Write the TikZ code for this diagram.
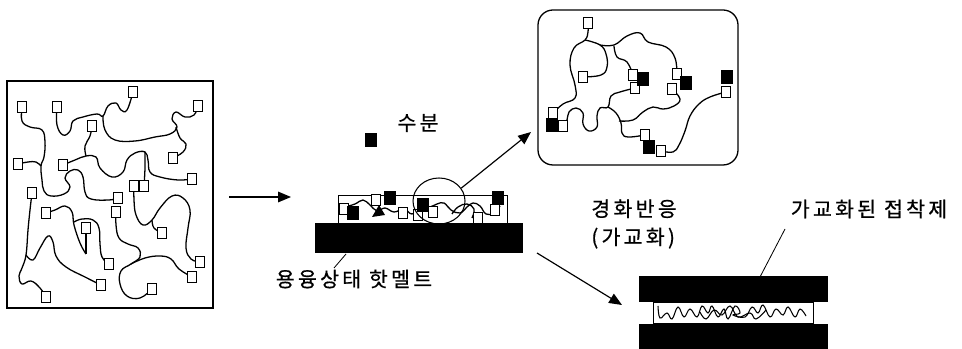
\documentclass[tikz,border=0pt]{standalone}
\usepackage{fontspec}
\usepackage{tikz}
\usetikzlibrary{arrows.meta, shapes.geometric}
\newfontfamily\kr[LetterSpace=16, FakeBold=0.6]{Noto Sans CJK KR}
\pgfdeclarelayer{back}
\pgfsetlayers{back, main}

\tikzset{
  unit/.style = {draw, fill = white, line width = 0.9pt, inner sep = 0pt,
    minimum width = 0.27cm, minimum height = 0.33cm},
  wet/.style = {unit, fill = black, minimum width = 0.31cm, minimum height = 0.39cm},
  chain/.style = {line width = 1.1pt, smooth, tension = 0.7},
  lbl/.style = {font = \kr\fontsize{17.5}{24}\selectfont, inner sep = 0pt},
  go/.style = {-{Triangle[length = 11pt, width = 9pt]}, line width = 1pt}
}

\begin{document}
\begin{tikzpicture}[x = 0.03cm, y = -0.03cm]
\useasboundingbox (0, 0) rectangle (962, 349);

% hot melt before application
\draw [line width = 1.1pt] (7, 81) rectangle (213, 308);
\foreach \x/\y [count = \i] in {133/92, 22/107, 57/107, 198/106, 92/126, 173/158,
  18/164, 63/165, 192/179, 134/186, 144/186, 32/193, 118/198, 46/213, 116/212,
  86/228, 162/233, 109/264, 200/262, 192/277, 101/285, 152/289, 46/297}
  \node [unit] (u\i) at (\x, \y) {};
\begin{pgfonlayer}{back}
\draw [chain] plot coordinates {(u2.center) (22, 121) (30, 127) (42, 130) (45, 142)
  (44, 157) (41, 166) (42, 180) (44, 191) (51, 196) (64, 194) (70, 187) (65, 178)
  (70, 171) (78, 170) (83, 177) (85, 192) (91, 199) (109, 200) (u13.center)};
\draw [chain] plot coordinates {(u7.center) (28, 162) (36, 162) (41, 166)};
\draw [chain] plot coordinates {(u3.center) (57, 125) (63, 135) (70, 131) (73, 121)
  (83, 117) (97, 114) (103, 116) (108, 106) (116, 103) (121, 110) (127, 110) (u1.center)};
\draw [chain] plot coordinates {(103, 116) (105, 130) (115, 140) (135, 141) (155, 137)
  (170, 134) (177, 127) (172, 119) (176, 112) (185, 117) (194, 115) (u4.center)};
\draw [chain] plot coordinates {(176, 127) (180, 138) (186, 144) (183, 152) (u6.center)};
\draw [chain] plot coordinates {(u5.center) (90, 136) (85, 146) (86, 156)};
\draw [chain] plot coordinates {(u8.center) (75, 160) (86, 156) (96, 157) (100, 168)
  (112, 177) (123, 172) (127, 160) (135, 153) (145, 152) (148, 160) (150, 172)
  (160, 177) (178, 180) (u9.center)};
\draw [chain] plot coordinates {(145, 152) (145, 168) (u11.center)};
\draw [chain] plot coordinates {(u10.center) (134, 200) (136, 215) (143, 225) (152, 220)
  (160, 208) (172, 196) (183, 198) (190, 210) (188, 228) (186, 248) (191, 259) (u19.center)};
\draw [chain] plot coordinates {(152, 220) (154, 228) (u17.center)};
\draw [chain] plot coordinates {(u12.center) (30, 210) (28, 230) (26, 255) (22, 268)
  (19, 276) (22, 284) (31, 281) (40, 288) (u23.center)};
\draw [chain] plot coordinates {(26, 255) (33, 260) (40, 248) (48, 236) (53, 242)
  (56, 256) (66, 267) (85, 277) (u21.center)};
\draw [chain] plot coordinates {(u14.center) (55, 210) (65, 206) (72, 212) (74, 225)
  (80, 243) (86, 254)};
\draw [chain] plot coordinates {(u16.center) (86, 240) (86, 254)};
\draw [chain] plot coordinates {(74, 222) (82, 219) (93, 220) (99, 228) (100, 244)
  (102, 257) (u18.center)};
\draw [chain] plot coordinates {(u15.center) (116, 225) (119, 238) (128, 244) (138, 248)
  (140, 257) (131, 264) (121, 271) (120, 284) (127, 296) (140, 298) (u22.center)};
\draw [chain] plot coordinates {(131, 264) (145, 258) (160, 256) (171, 259) (179, 269)
  (u20.center)};
\end{pgfonlayer}

% applied melt with moisture
\coordinate (a1) at (229, 197);
\coordinate (a2) at (291, 197);
\draw [go] (a1) -- (a2);
\node [wet, minimum width = 0.3cm, minimum height = 0.36cm] (n0) at (371, 140) {};
\node [lbl] (water) at (418, 123) {수분};
\fill (315, 223) rectangle (523, 253);
\draw [line width = 0.8pt] (338, 195) rectangle (507, 223);
\foreach \x/\y [count = \i] in {344/209, 376/200, 403/213, 418/215, 433/212, 478/218, 495/210}
  \node [unit] (m\i) at (\x, \y) {};
\foreach \x/\y [count = \i] in {353/213, 390/198, 423/205, 498/198}
  \node [wet] (n\i) at (\x, \y) {};
\begin{pgfonlayer}{back}
\draw [chain] plot coordinates {(345, 207) (355, 204) (363, 200) (370, 205) (377, 211)
  (385, 208) (394, 212) (404, 209) (412, 214) (420, 208) (430, 207) (437, 204)
  (444, 203) (451, 210) (460, 213) (467, 207) (473, 203) (480, 206) (486, 214)
  (494, 213) (500, 206)};
\draw [chain] plot coordinates {(452, 214) (458, 207) (467, 204) (474, 209) (472, 218)};
\end{pgfonlayer}
\fill (372, 217) -- (379, 205) -- (385, 215) -- cycle;
\node [draw, ellipse, line width = 0.9pt, inner sep = 0pt, minimum width = 1.56cm,
  minimum height = 1.38cm] (bubble) at (439, 201) {};
\node [lbl] (melt) at (354, 279) {용융상태 핫멜트};
\coordinate (melt-a) at (334, 268);
\coordinate (melt-b) at (346, 254);
\draw [line width = 0.7pt] (melt-a) -- (melt-b);

% moisture taken up by the chains
\coordinate (up-end) at (531, 132);
\draw [go] (bubble.30) -- (up-end);
\draw [line width = 1.1pt, rounded corners = 0.45cm] (538, 10) rectangle (738, 165);
\foreach \x/\y [count = \i] in {588/23, 583/77, 633/75, 635/88, 677/74, 672/89, 726/92,
  553/113, 563/126, 645/135, 661/151}
  \node [unit] (c\i) at (\x, \y) {};
\foreach \x/\y [count = \i] in {643/79, 686/83, 727/77, 552/125, 649/147}
  \node [wet] (w\i) at (\x, \y) {};
\begin{pgfonlayer}{back}
\draw [chain] plot coordinates {(c1.center) (588, 32) (585, 40) (574, 48) (570, 65)
  (575, 85) (575, 98) (563, 104) (c8.center)};
\draw [chain] plot coordinates {(585, 40) (600, 45) (606, 54) (607, 67) (601, 75) (c2.center)};
\draw [chain] plot coordinates {(600, 45) (614, 45) (627, 36) (640, 33) (648, 42)
  (666, 47) (675, 58) (c5.center)};
\draw [chain] plot coordinates {(614, 46) (617, 57) (627, 62) (c3.center)};
\draw [chain] plot coordinates {(c4.center) (620, 92) (611, 96) (608, 107) (600, 108)
  (597, 116) (597, 127) (589, 131) (583, 124) (583, 113) (576, 108) (569, 112)
  (567, 120) (c9.center)};
\draw [chain] plot coordinates {(608, 107) (616, 113) (621, 123) (622, 133) (628, 137)
  (c10.center)};
\draw [chain] plot coordinates {(619, 121) (633, 120) (643, 112) (653, 107) (663, 109)
  (674, 106) (680, 99) (c6.center)};
\draw [chain] plot coordinates {(c7.center) (710, 97) (699, 104) (690, 116) (685, 131)
  (679, 145) (673, 152) (c11.center)};
\end{pgfonlayer}

% cured bond line
\coordinate (down-a) at (537, 253);
\coordinate (down-b) at (622, 305);
\draw [go] (down-a) -- (down-b);
\node [lbl, align = left] (cure) at (634, 224) {경화반응\\(가교화)};
\node [lbl] (bond) at (869, 209) {가교화된 접착제};
\fill (639, 276) rectangle (828, 302);
\draw [line width = 0.8pt] (653, 302) rectangle (813, 323);
\fill (639, 324) rectangle (828, 349);
\draw [chain, line width = 0.9pt] plot coordinates {(658, 306) (660, 318) (667, 313)
  (672, 319) (678, 307) (684, 317) (690, 309) (697, 317) (702, 306) (708, 313)
  (712, 306) (718, 317) (724, 309) (728, 319) (735, 306) (740, 313) (733, 315)
  (745, 317) (752, 307) (758, 313) (763, 305) (770, 317) (776, 309) (783, 315)
  (788, 307) (795, 317) (800, 309) (806, 316)};
\draw [chain, line width = 0.9pt] plot coordinates {(700, 312) (706, 319) (714, 310)
  (722, 315) (730, 306) (738, 317) (750, 313) (756, 319) (766, 310)};
\coordinate (bond-a) at (785, 229);
\coordinate (bond-b) at (760, 277);
\draw [line width = 0.7pt] (bond-a) -- (bond-b);
\end{tikzpicture}
\end{document}
